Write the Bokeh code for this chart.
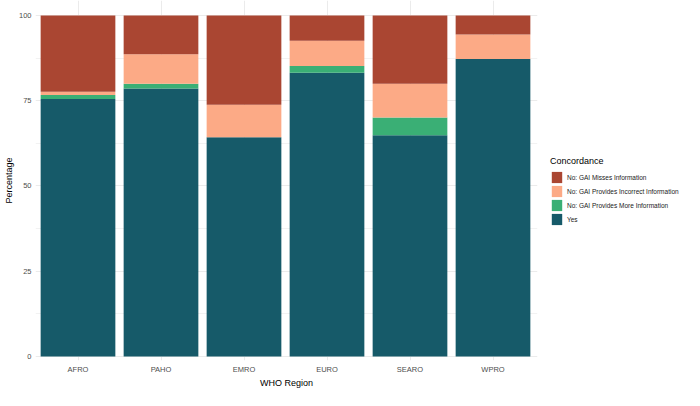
import numpy as np
from bokeh.plotting import figure
from bokeh.models import (ColumnDataSource, Range1d, FixedTicker, Legend, LegendItem)
from bokeh.embed import file_html
from bokeh.resources import INLINE

regions = ["AFRO", "PAHO", "EMRO", "EURO", "SEARO", "WPRO"]
yes = [75.5, 78.6, 64.3, 83.2, 64.9, 87.2]
more_info = [1.2, 1.4, 0.0, 2.0, 5.2, 0.0]
incorrect = [0.9, 8.6, 9.5, 7.4, 9.9, 7.2]
misses = [22.4, 11.4, 26.2, 7.4, 20.0, 5.6]

categories = ["Yes", "No: GAI Provides More Information",
              "No: GAI Provides Incorrect Information", "No: GAI Misses Information"]
colors = ["#165A69", "#3AAF75", "#FCAA86", "#AA4632"]
y_ticks = [0, 25, 50, 75, 100]
y_minor = [12.5, 37.5, 62.5, 87.5]

xpos = list(np.arange(1, len(regions) + 1))
src = ColumnDataSource(dict(x=xpos, Yes=yes, More=more_info, Incorrect=incorrect, Misses=misses))

FONT = "Liberation Sans"
L = 35
FW = 502
SP = 83.0
x0 = 1 - (77.5 - L) / SP
p = figure(frame_width=FW, frame_height=360, output_backend="svg", toolbar_location=None,
           x_range=Range1d(x0, x0 + FW / SP), y_range=Range1d(-1.17, 104.39),
           min_border_left=0, min_border_right=146, min_border_top=0, min_border_bottom=0)
p.outline_line_color = None
p.background_fill_color = "white"

rs = p.vbar_stack(["Yes", "More", "Incorrect", "Misses"], x="x", width=0.9, source=src,
                  color=colors, line_color=None)

# axes
p.xaxis.ticker = FixedTicker(ticks=xpos)
p.xaxis.major_label_overrides = {int(i): r for i, r in zip(xpos, regions)}
p.yaxis.ticker = FixedTicker(ticks=y_ticks, minor_ticks=y_minor)
for ax in (p.xaxis, p.yaxis):
    ax.axis_line_color = None
    ax.major_tick_line_color = None
    ax.minor_tick_line_color = None
    ax.major_tick_out = 0
    ax.major_tick_in = 0
    ax.minor_tick_out = 0
    ax.minor_tick_in = 0
    ax.major_label_text_font = FONT
    ax.major_label_text_font_size = "7.5px"
    ax.major_label_text_color = "#4D4D4D"
    ax.axis_label_text_font = FONT
    ax.axis_label_text_font_size = "9px"
    ax.axis_label_text_font_style = "normal"
    ax.axis_label_text_color = "#000000"
p.xaxis.axis_label = "WHO Region"
p.yaxis.axis_label = "Percentage"
p.xaxis.major_label_standoff = 4
p.xaxis.axis_label_standoff = 1
p.yaxis.major_label_standoff = 4
p.yaxis.axis_label_standoff = 2

p.xgrid.grid_line_color = "#EBEBEB"
p.ygrid.grid_line_color = "#EBEBEB"
p.ygrid.minor_grid_line_color = "#F2F2F2"
p.xgrid.grid_line_width = 1
p.ygrid.grid_line_width = 1

items = [LegendItem(label=c, renderers=[r]) for c, r in zip(categories[::-1], rs[::-1])]
legend = Legend(items=items, location=(13, 134), orientation="vertical",
                title="Concordance", title_text_font=FONT, title_text_font_size="9px",
                title_text_font_style="normal", title_text_color="#000000", title_standoff=4,
                label_text_font=FONT, label_text_font_size="6.5px", label_text_color="#1A1A1A",
                glyph_width=13, glyph_height=14, label_height=14, label_standoff=4,
                spacing=0, padding=0, margin=0,
                background_fill_alpha=0, border_line_color=None)
p.add_layout(legend, "right")

open("out.html", "w").write(file_html(p, INLINE))
